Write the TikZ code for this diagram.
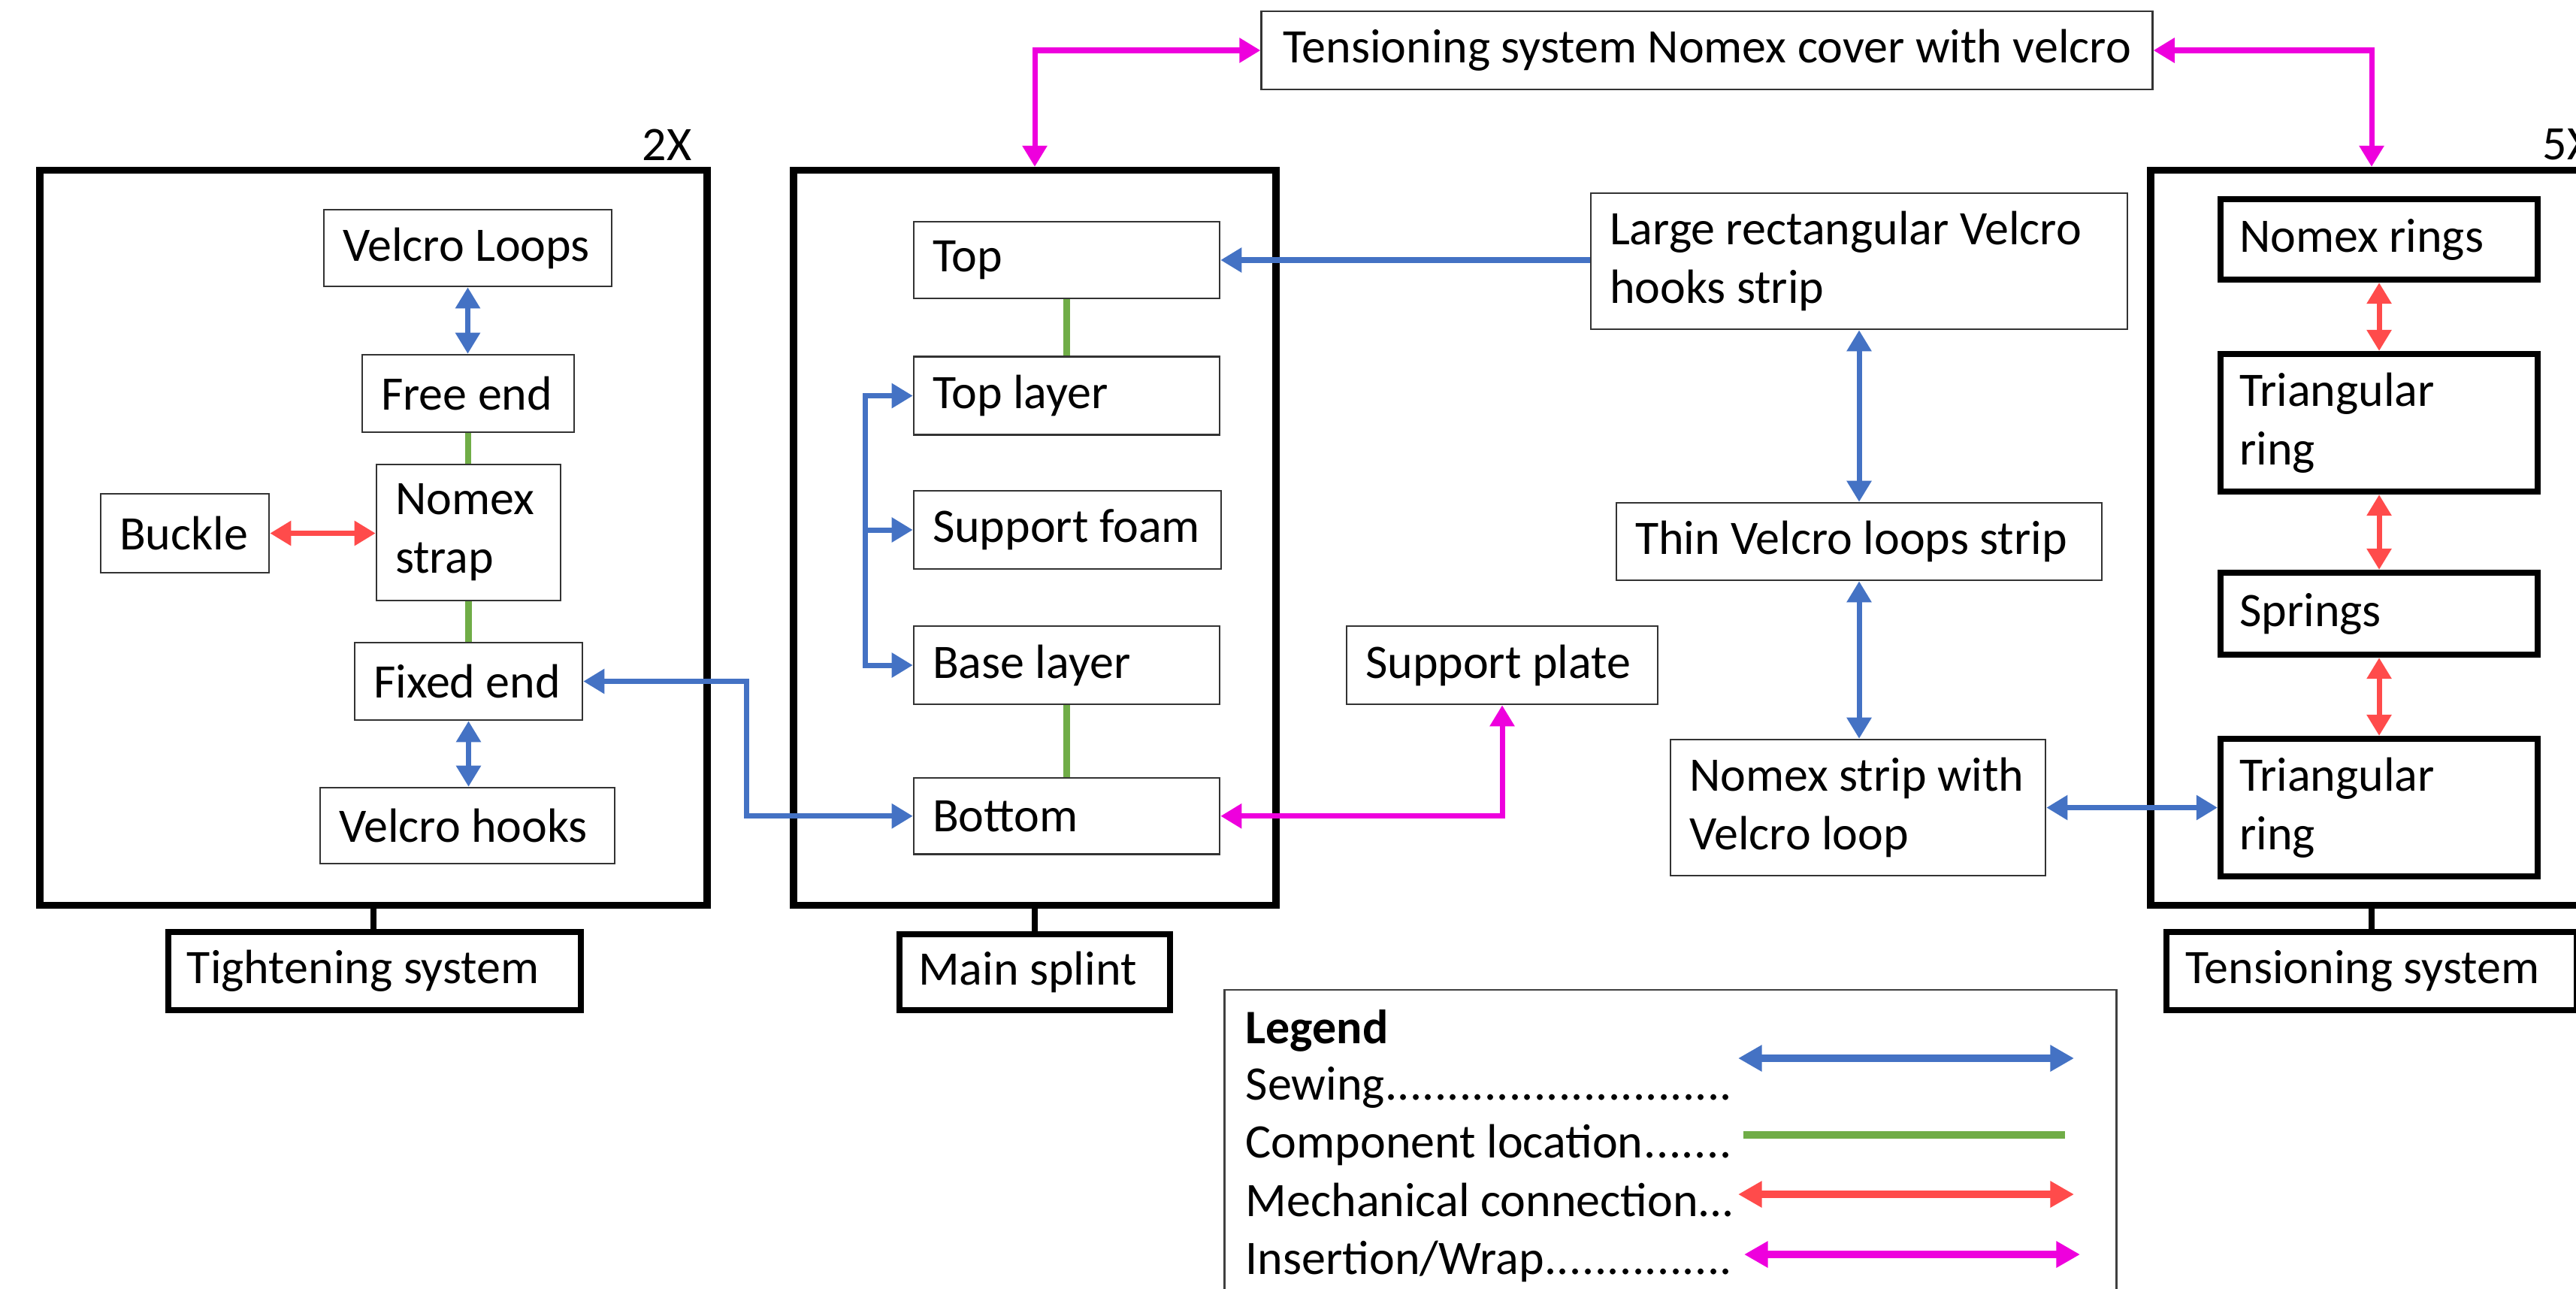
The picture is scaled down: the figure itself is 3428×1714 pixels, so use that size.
\documentclass[tikz,border=0pt]{standalone}
\usepackage{fontspec}
\setmainfont{Carlito}
\usetikzlibrary{arrows.meta}
\definecolor{cblue}{RGB}{68,114,196}
\definecolor{cgreen}{RGB}{112,173,71}
\definecolor{cred}{RGB}{255,75,75}
\definecolor{cmag}{RGB}{238,0,221}
% name, x1, y1, x2, y2, style, text
\newcommand\mybox[7]{%
  \pgfmathsetmacro\mybw{(#4-#2)*0.01}%
  \pgfmathsetmacro\mybh{(#5-#3)*0.01}%
  \pgfmathsetmacro\mytw{(#4-#2-50)*0.01}%
  \node[#6, minimum width=\mybw cm, minimum height=\mybh cm, text width=\mytw cm] (#1) at ({(#2+#4)/2},{(#3+#5)/2}) {#7};}
\newcommand\mypanel[5]{%
  \pgfmathsetmacro\mybw{(#4-#2)*0.01}%
  \pgfmathsetmacro\mybh{(#5-#3)*0.01}%
  \node[panel, minimum width=\mybw cm, minimum height=\mybh cm] (#1) at ({(#2+#4)/2},{(#3+#5)/2}) {};}
\begin{document}
\begin{tikzpicture}[x=0.01cm,y=-0.01cm,
  >={Triangle[length=8pt,width=9pt]},
  every node/.style={font=\fontsize{18.2}{22.2}\selectfont},
  thinbox/.style={draw=black!80, line width=0.7pt, inner xsep=0.25cm, inner ysep=0pt, align=flush left},
  thickbox/.style={draw=black, line width=2.3pt, inner xsep=0.25cm, inner ysep=0pt, align=flush left},
  panel/.style={draw=black, line width=2.6pt, inner sep=0pt},
  sew/.style={cblue, line width=2pt},
  loc/.style={cgreen, line width=2.5pt},
  mech/.style={cred, line width=2pt},
  ins/.style={cmag, line width=2pt},
  conn/.style={black, line width=2.3pt},
  legarrow/.style={line width=2.6pt, >={Triangle[length=9pt,width=9.5pt]}}]
\useasboundingbox (0,0) rectangle (3428,1714);
\fill[white] (0,0) rectangle (3428,1714);
\clip (0,0) rectangle (3428,1714);

% ---------- panels ----------
\mypanel{lp}{53}{226.5}{941}{1204.6}
\mypanel{mp}{1056}{226.5}{1698}{1204.6}
\mypanel{rp}{2862}{226.5}{3470}{1204.6}

\node[anchor=base east, inner sep=0] (twox) at (921,213) {2X};
\node[anchor=base west, inner sep=0] (fivex) at (3383,212) {5X};

% ---------- tightening system ----------
\mybox{vloops}{431}{279}{814}{381}{thinbox}{Velcro~Loops}
\mybox{free}{482}{472}{764}{575}{thinbox}{Free~end}
\mybox{strap}{501}{618}{746}{799}{thinbox}{Nomex\\strap}
\mybox{buckle}{134}{657}{358}{762}{thinbox}{Buckle}
\mybox{fixed}{472}{855}{775}{958}{thinbox}{Fixed~end}
\mybox{vhooks}{426}{1048}{818}{1149}{thinbox}{Velcro~hooks}
\mybox{tight}{224}{1240}{773}{1344}{thickbox}{Tightening~system}

% ---------- main splint ----------
\mybox{top}{1216}{295}{1623}{397}{thinbox}{Top}
\mybox{toplayer}{1216}{474.5}{1623}{578.6}{thinbox}{Top~layer}
\mybox{foam}{1216}{653}{1625}{757}{thinbox}{Support~foam}
\mybox{base}{1216}{833}{1623}{937}{thinbox}{Base~layer}
\mybox{bottom}{1216}{1035}{1623}{1136.5}{thinbox}{Bottom}
\mybox{msplint}{1197}{1243}{1557}{1344}{thickbox}{Main~splint}
\mybox{plate}{1792}{833}{2206}{937}{thinbox}{Support~plate}

% ---------- middle column ----------
\mybox{large}{2117}{257}{2831}{438}{thinbox}{Large~rectangular~Velcro\\hooks~strip}
\mybox{thin}{2151}{669}{2797}{772}{thinbox}{Thin~Velcro~loops~strip}
\mybox{nstrip}{2223}{984}{2722}{1165}{thinbox}{Nomex~strip~with\\Velcro~loop}
\node[thinbox, align=center, inner sep=0pt, minimum width=11.85cm, minimum height=1.04cm] (cover) at (2271.5,67) {Tensioning system Nomex cover with velcro};

% ---------- tensioning system ----------
\mybox{rings}{2955}{265}{3377}{372}{thickbox}{Nomex~rings}
\mybox{tri1}{2955}{471}{3377}{654}{thickbox}{Triangular\\ring}
\mybox{springs}{2955}{762}{3377}{871}{thickbox}{Springs}
\mybox{tri2}{2955}{983}{3377}{1166}{thickbox}{Triangular\\ring}
\mybox{tens}{2883}{1240}{3429}{1344}{thickbox}{Tensioning~system}

% ---------- panel to label connectors ----------
\draw[conn] (lp.south) -- (lp.south |- tight.north);
\draw[conn] (mp.south) -- (msplint.north);
\draw[conn] (tens.north |- rp.south) -- (tens.north);

% ---------- connectors: tightening system ----------
\draw[sew,<->] (vloops.south) -- (vloops.south |- free.north);
\draw[loc] (free.south) -- (free.south |- strap.north);
\draw[loc] (strap.south) -- (strap.south |- fixed.north);
\draw[sew,<->] (fixed.south) -- (fixed.south |- vhooks.north);
\draw[mech,<->] (buckle.east) -- (buckle.east -| strap.west);
\draw[sew,<->] (fixed.east) -- ++(217,0) |- (bottom.west);

% ---------- connectors: main splint ----------
\draw[loc] (top.south) -- (top.south |- toplayer.north);
\draw[loc] (base.south) -- (base.south |- bottom.north);
\draw[sew,<->] (toplayer.west) -- ++(-63,0) |- (base.west);
\draw[sew,->] ([xshift=-0.63cm]foam.west) -- (foam.west);
\draw[sew,<-] (top.east) -- (top.east -| large.west);
\draw[ins,<->] (bottom.east) -| (plate.south);

% ---------- connectors: middle / right ----------
\draw[sew,<->] (large.south) -- (large.south |- thin.north);
\draw[sew,<->] (thin.south) -- (thin.south |- nstrip.north);
\draw[sew,<->] (nstrip.east) -- (nstrip.east -| tri2.west);
\draw[mech,<->] (rings.south) -- (tri1.north);
\draw[mech,<->] (tri1.south) -- (springs.north);
\draw[mech,<->] (springs.south) -- (tri2.north);
\draw[ins,<->] (cover.west) -| (mp.north);
\draw[ins,<->] (cover.east) -| ([xshift=-0.1cm]rp.north);

% ---------- legend ----------
\node[draw=black!75, line width=0.8pt, minimum width=11.86cm, minimum height=4.3cm, inner sep=0pt] (legend) at (2223,1532) {};
\node[anchor=base west, inner sep=0pt] (lgt) at (1657,1388) {\textbf{Legend}};
\node[anchor=base west, inner sep=0pt] (lsew) at (1657,1463) {\makebox[6.48cm][l]{Sewing\xleaders\hbox{.}\hfill}};
\node[anchor=base west, inner sep=0pt] (lloc) at (1657,1540) {\makebox[6.48cm][l]{Component location\xleaders\hbox{.}\hfill}};
\node[anchor=base west, inner sep=0pt] (lmech) at (1657,1618) {Mechanical connection...};
\node[anchor=base west, inner sep=0pt] (lins) at (1657,1695) {\makebox[6.48cm][l]{Insertion/Wrap\xleaders\hbox{.}\hfill}};
\coordinate (sa) at (2313,1408); \coordinate (sb) at (2760,1408);
\coordinate (ga) at (2320,1510); \coordinate (gb) at (2748,1510);
\coordinate (ra) at (2313,1589); \coordinate (rb) at (2760,1589);
\coordinate (ma) at (2321,1669); \coordinate (mb) at (2768,1669);
\draw[sew,legarrow,<->] (sa) -- (sb);
\draw[loc,line width=2.8pt] (ga) -- (gb);
\draw[mech,legarrow,<->] (ra) -- (rb);
\draw[ins,legarrow,<->] (ma) -- (mb);
\end{tikzpicture}
\end{document}
